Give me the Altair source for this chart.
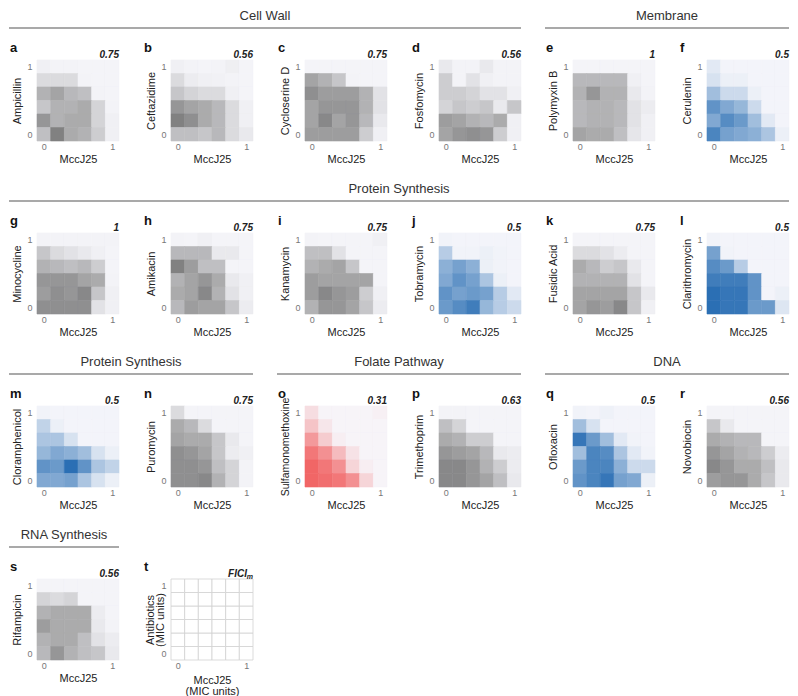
import altair as alt
import pandas as pd

# concentration levels (MIC units) for both axes
levels = [0, 0.2, 0.4, 0.6, 0.8, 1.0]

# growth matrices: rows from antibiotic = 1 (top) to 0 (bottom); columns MccJ25 = 0 .. 1
ampicillin = [[0.05, 0.03, 0.03, 0.02, 0.02, 0.02],
              [0.20, 0.20, 0.20, 0.03, 0.02, 0.02],
              [0.50, 0.60, 0.45, 0.40, 0.03, 0.02],
              [0.35, 0.50, 0.50, 0.55, 0.25, 0.03],
              [0.70, 0.50, 0.55, 0.55, 0.25, 0.05],
              [0.40, 0.85, 0.55, 0.50, 0.30, 0.05]]
ceftazidime = [[0.05, 0.03, 0.02, 0.03, 0.06, 0.02],
               [0.20, 0.08, 0.05, 0.04, 0.03, 0.02],
               [0.35, 0.25, 0.20, 0.20, 0.05, 0.02],
               [0.70, 0.60, 0.55, 0.45, 0.20, 0.05],
               [0.85, 0.75, 0.55, 0.45, 0.20, 0.05],
               [0.40, 0.40, 0.35, 0.45, 0.20, 0.10]]
cycloserine = [[0.02, 0.02, 0.02, 0.02, 0.02, 0.02],
               [0.60, 0.50, 0.35, 0.03, 0.02, 0.02],
               [0.75, 0.65, 0.65, 0.65, 0.50, 0.15],
               [0.60, 0.70, 0.70, 0.70, 0.50, 0.15],
               [0.60, 0.80, 0.60, 0.70, 0.45, 0.10],
               [0.65, 0.65, 0.65, 0.65, 0.30, 0.05]]
fosfomycin = [[0.10, 0.03, 0.03, 0.10, 0.03, 0.03],
              [0.30, 0.03, 0.15, 0.05, 0.03, 0.03],
              [0.30, 0.30, 0.25, 0.15, 0.15, 0.05],
              [0.25, 0.35, 0.30, 0.35, 0.10, 0.35],
              [0.65, 0.60, 0.50, 0.45, 0.55, 0.05],
              [0.60, 0.70, 0.75, 0.70, 0.30, 0.05]]
polymyxin = [[0.02, 0.02, 0.02, 0.02, 0.02, 0.02],
             [0.45, 0.45, 0.45, 0.45, 0.05, 0.02],
             [0.50, 0.70, 0.50, 0.50, 0.10, 0.03],
             [0.45, 0.50, 0.50, 0.45, 0.15, 0.08],
             [0.45, 0.50, 0.50, 0.45, 0.15, 0.05],
             [0.60, 0.55, 0.55, 0.40, 0.12, 0.05]]
cerulenin = [[0.10, 0.02, 0.02, 0.02, 0.02, 0.02],
             [0.15, 0.05, 0.05, 0.02, 0.02, 0.02],
             [0.40, 0.20, 0.20, 0.05, 0.02, 0.02],
             [0.70, 0.55, 0.45, 0.20, 0.02, 0.02],
             [0.55, 0.75, 0.65, 0.40, 0.10, 0.02],
             [0.80, 0.60, 0.55, 0.50, 0.35, 0.05]]
minocycline = [[0.03, 0.03, 0.03, 0.03, 0.03, 0.03],
               [0.35, 0.20, 0.15, 0.10, 0.05, 0.02],
               [0.50, 0.45, 0.40, 0.45, 0.30, 0.02],
               [0.70, 0.70, 0.70, 0.60, 0.55, 0.03],
               [0.65, 0.75, 0.70, 0.80, 0.35, 0.05],
               [0.75, 0.75, 0.75, 0.75, 0.15, 0.05]]
amikacin = [[0.03, 0.02, 0.05, 0.02, 0.02, 0.02],
            [0.45, 0.45, 0.45, 0.10, 0.10, 0.02],
            [0.85, 0.65, 0.40, 0.40, 0.02, 0.02],
            [0.50, 0.60, 0.70, 0.55, 0.10, 0.05],
            [0.55, 0.60, 0.80, 0.50, 0.15, 0.05],
            [0.45, 0.65, 0.60, 0.60, 0.35, 0.08]]
kanamycin = [[0.03, 0.02, 0.02, 0.02, 0.02, 0.05],
             [0.40, 0.40, 0.15, 0.02, 0.02, 0.02],
             [0.50, 0.55, 0.60, 0.35, 0.02, 0.02],
             [0.65, 0.60, 0.60, 0.60, 0.60, 0.02],
             [0.65, 0.80, 0.70, 0.65, 0.30, 0.05],
             [0.50, 0.70, 0.70, 0.60, 0.35, 0.08]]
tobramycin = [[0.03, 0.02, 0.02, 0.02, 0.02, 0.02],
              [0.30, 0.03, 0.03, 0.05, 0.03, 0.02],
              [0.50, 0.60, 0.50, 0.05, 0.03, 0.02],
              [0.55, 0.70, 0.60, 0.35, 0.05, 0.02],
              [0.70, 0.60, 0.65, 0.60, 0.30, 0.10],
              [0.65, 0.75, 0.85, 0.45, 0.30, 0.20]]
fusidic = [[0.02, 0.02, 0.02, 0.02, 0.02, 0.02],
           [0.20, 0.20, 0.15, 0.08, 0.02, 0.02],
           [0.55, 0.45, 0.30, 0.35, 0.10, 0.02],
           [0.50, 0.50, 0.50, 0.50, 0.15, 0.02],
           [0.60, 0.60, 0.60, 0.60, 0.35, 0.10],
           [0.60, 0.70, 0.65, 0.80, 0.35, 0.05]]
clarithromycin = [[0.03, 0.02, 0.02, 0.02, 0.02, 0.02],
                  [0.60, 0.03, 0.02, 0.02, 0.02, 0.02],
                  [0.75, 0.65, 0.30, 0.02, 0.02, 0.02],
                  [0.85, 0.85, 0.85, 0.70, 0.02, 0.02],
                  [0.95, 0.90, 0.90, 0.70, 0.02, 0.05],
                  [0.95, 0.90, 0.90, 0.65, 0.65, 0.12]]
chloramphenicol = [[0.03, 0.02, 0.02, 0.02, 0.02, 0.02],
                   [0.25, 0.05, 0.02, 0.02, 0.02, 0.02],
                   [0.35, 0.35, 0.15, 0.02, 0.02, 0.02],
                   [0.45, 0.55, 0.50, 0.40, 0.15, 0.05],
                   [0.70, 0.65, 0.95, 0.70, 0.35, 0.25],
                   [0.55, 0.55, 0.60, 0.35, 0.15, 0.05]]
puromycin = [[0.20, 0.02, 0.02, 0.02, 0.02, 0.02],
             [0.55, 0.45, 0.20, 0.02, 0.02, 0.02],
             [0.60, 0.55, 0.55, 0.35, 0.10, 0.02],
             [0.75, 0.70, 0.60, 0.35, 0.08, 0.05],
             [0.75, 0.75, 0.70, 0.40, 0.25, 0.03],
             [0.75, 0.75, 0.80, 0.50, 0.25, 0.03]]
sulfamonomethoxine = [[0.15, 0.02, 0.02, 0.02, 0.02, 0.04],
                      [0.30, 0.10, 0.02, 0.02, 0.02, 0.02],
                      [0.55, 0.25, 0.05, 0.02, 0.02, 0.02],
                      [0.75, 0.60, 0.35, 0.12, 0.02, 0.02],
                      [0.85, 0.75, 0.60, 0.20, 0.05, 0.02],
                      [0.85, 0.80, 0.75, 0.60, 0.20, 0.02]]
trimethoprim = [[0.03, 0.03, 0.02, 0.02, 0.02, 0.02],
                [0.40, 0.25, 0.02, 0.02, 0.02, 0.02],
                [0.55, 0.50, 0.30, 0.30, 0.02, 0.02],
                [0.70, 0.65, 0.60, 0.45, 0.10, 0.08],
                [0.80, 0.80, 0.70, 0.50, 0.30, 0.08],
                [0.80, 0.80, 0.70, 0.60, 0.40, 0.10]]
ofloxacin = [[0.03, 0.02, 0.04, 0.02, 0.02, 0.02],
             [0.40, 0.15, 0.02, 0.02, 0.02, 0.02],
             [0.90, 0.65, 0.40, 0.10, 0.03, 0.02],
             [0.40, 0.80, 0.75, 0.35, 0.10, 0.03],
             [0.65, 0.80, 0.80, 0.50, 0.20, 0.20],
             [0.70, 0.80, 0.90, 0.60, 0.55, 0.05]]
novobiocin = [[0.02, 0.02, 0.02, 0.02, 0.02, 0.02],
              [0.35, 0.10, 0.02, 0.02, 0.02, 0.02],
              [0.55, 0.50, 0.45, 0.45, 0.02, 0.02],
              [0.70, 0.60, 0.50, 0.45, 0.30, 0.08],
              [0.80, 0.70, 0.55, 0.55, 0.40, 0.10],
              [0.65, 0.70, 0.70, 0.55, 0.35, 0.10]]
rifampicin = [[0.02, 0.02, 0.02, 0.02, 0.02, 0.02],
              [0.25, 0.20, 0.25, 0.02, 0.02, 0.02],
              [0.50, 0.55, 0.55, 0.55, 0.08, 0.02],
              [0.65, 0.55, 0.55, 0.55, 0.10, 0.03],
              [0.50, 0.55, 0.55, 0.40, 0.15, 0.08],
              [0.45, 0.70, 0.50, 0.40, 0.35, 0.10]]

letters = list("abcdefghijklmnopqrs")
drugs = ["Ampicillin", "Ceftazidime", "Cycloserine D", "Fosfomycin", "Polymyxin B",
         "Cerulenin", "Minocycline", "Amikacin", "Kanamycin", "Tobramycin",
         "Fusidic Acid", "Clarithromycin", "Cloramphenicol", "Puromycin",
         "Sulfamonomethoxine", "Trimethoprim", "Ofloxacin", "Novobiocin", "Rifampicin"]
fici = ["0.75", "0.56", "0.75", "0.56", "1", "0.5", "1", "0.75", "0.75", "0.5",
        "0.75", "0.5", "0.5", "0.75", "0.31", "0.63", "0.5", "0.56", "0.56"]
tones = ["gray", "gray", "gray", "gray", "gray", "blue", "gray", "gray", "gray", "blue",
         "gray", "blue", "blue", "gray", "red", "gray", "blue", "gray", "gray"]
matrices = [ampicillin, ceftazidime, cycloserine, fosfomycin, polymyxin, cerulenin,
            minocycline, amikacin, kanamycin, tobramycin, fusidic, clarithromycin,
            chloramphenicol, puromycin, sulfamonomethoxine, trimethoprim, ofloxacin,
            novobiocin, rifampicin]

# target-class groups: name, first panel index, number of panels
group_names = ["Cell Wall", "Membrane", "Protein Synthesis", "Protein Synthesis",
               "Folate Pathway", "DNA", "RNA Synthesis"]
group_first = [0, 4, 6, 12, 14, 16, 18]
group_size = [4, 2, 6, 2, 2, 2, 1]
legend_letter = "t"

FONT = "Liberation Sans"
COLS = 6
W, H = 82, 81
GAP = 52
PITCH = 173
LEFT = 28
LINE_Y = -32
HEAD_Y = -44
LAV = "#f7f7fb"
BASE = {"gray": "#6c6c6c", "blue": "#2068b0", "red": "#f04c4c"}
HALF = (levels[1] - levels[0]) / 2


def cells(mat):
    recs = []
    n = len(mat)
    for r, row in enumerate(mat):
        for c, v in enumerate(row):
            recs.append({"mcc": levels[c], "abx": levels[n - 1 - r], "v": v})
    return pd.DataFrame(recs)


def enc(ytitle, xtitle="MccJ25", extra_x=None, extra_y=None):
    dom = [levels[0] - HALF, levels[-1] + HALF]
    x = alt.X("x1:Q", scale=alt.Scale(domain=dom, nice=False, zero=False),
              axis=alt.Axis(values=[0, 1], format="d", title=xtitle, **(extra_x or {})))
    y = alt.Y("y1:Q", scale=alt.Scale(domain=dom, nice=False, zero=False),
              axis=alt.Axis(values=[0, 1], format="d", title=ytitle, **(extra_y or {})))
    return dict(x=x, x2="x2:Q", y=y, y2="y2:Q")


def with_bounds(chart):
    return chart.transform_calculate(
        x1=f"datum.mcc - {HALF}", x2=f"datum.mcc + {HALF}",
        y1=f"datum.abx - {HALF}", y2=f"datum.abx + {HALF}")


def letter_layer(letter):
    df = pd.DataFrame({"letter": [letter]})
    return alt.Chart(df).mark_text(font=FONT, fontSize=13, fontWeight="bold", color="#111",
                                   align="left", baseline="alphabetic").encode(
        x=alt.value(-27), y=alt.value(-8), text="letter:N")


def header_layers(i):
    out = []
    for name, first, size in zip(group_names, group_first, group_size):
        if first == i:
            w = size * W + (size - 1) * GAP
            df = pd.DataFrame({"name": [name]})
            out.append(alt.Chart(df).mark_rule(color="#555", strokeWidth=1.2).encode(
                x=alt.value(-LEFT), x2=alt.value(w), y=alt.value(LINE_Y)))
            out.append(alt.Chart(df).mark_text(font=FONT, fontSize=13, color="#333",
                                               baseline="middle").encode(
                x=alt.value((w - LEFT) / 2), y=alt.value(HEAD_Y), text="name:N"))
    return out


def panel(i):
    scale = alt.Scale(domain=[0, 1], range=[LAV, BASE[tones[i]]], interpolate="rgb")
    ytitle_extra = {"titleFontSize": 10.5} if len(drugs[i]) > 15 else {}
    heat = with_bounds(alt.Chart(cells(matrices[i]))).mark_rect(strokeWidth=0.6).encode(
        color=alt.Color("v:Q", scale=scale, legend=None),
        stroke=alt.Stroke("v:Q", scale=scale, legend=None),
        **enc(drugs[i], extra_y=ytitle_extra))
    df = pd.DataFrame({"fici": [fici[i]]})
    ft = alt.Chart(df).mark_text(font=FONT, fontSize=10, fontWeight="bold", fontStyle="italic",
                                 color="#222", align="right", baseline="alphabetic").encode(
        x=alt.value(W), y=alt.value(-2), text="fici:N")
    return alt.layer(heat, letter_layer(letters[i]), ft, *header_layers(i)).properties(
        width=W, height=H)


def legend_panel():
    grid = pd.DataFrame([{"mcc": m, "abx": a} for a in levels for m in levels])
    rect = with_bounds(alt.Chart(grid)).mark_rect(fill="white", stroke="#d2d2d2",
                                                  strokeWidth=0.8).encode(
        **enc(["Antibiotics", "(MIC units)"], ["MccJ25", "(MIC units)"],
              extra_x={"titleLineHeight": 11, "titlePadding": 4},
              extra_y={"titleLineHeight": 10, "titlePadding": -5}))
    df = pd.DataFrame({"name": ["FICI"], "sub": ["m"]})
    ft = alt.Chart(df).mark_text(font=FONT, fontSize=10, fontWeight="bold", fontStyle="italic",
                                 color="#222", align="right", baseline="alphabetic").encode(
        x=alt.value(W - 6), y=alt.value(-2), text="name:N")
    st = alt.Chart(df).mark_text(font=FONT, fontSize=7, fontWeight="bold", fontStyle="italic",
                                 color="#222", align="right", baseline="alphabetic").encode(
        x=alt.value(W), y=alt.value(0), text="sub:N")
    return alt.layer(rect, letter_layer(legend_letter), ft, st).properties(width=W, height=H)


charts = [panel(i) for i in range(len(drugs))] + [legend_panel()]

chart = alt.concat(*charts, columns=COLS, bounds="flush",
                   spacing={"row": PITCH - H, "column": GAP}).resolve_scale(
    color="independent", stroke="independent"
).properties(
    padding={"left": 0, "top": 2, "right": 0, "bottom": 0}
).configure_view(strokeWidth=0).configure_axis(
    ticks=False, domain=False, grid=False,
    labelFont=FONT, labelFontSize=9, labelColor="#777",
    titleFont=FONT, titleFontSize=11, titleFontWeight="normal", titleColor="#222",
).configure_axisX(
    labelPadding=1, titlePadding=2
).configure_axisY(
    labelPadding=5, titlePadding=4
)

chart.save("out.html", embed_options={"renderer": "svg", "actions": False})
